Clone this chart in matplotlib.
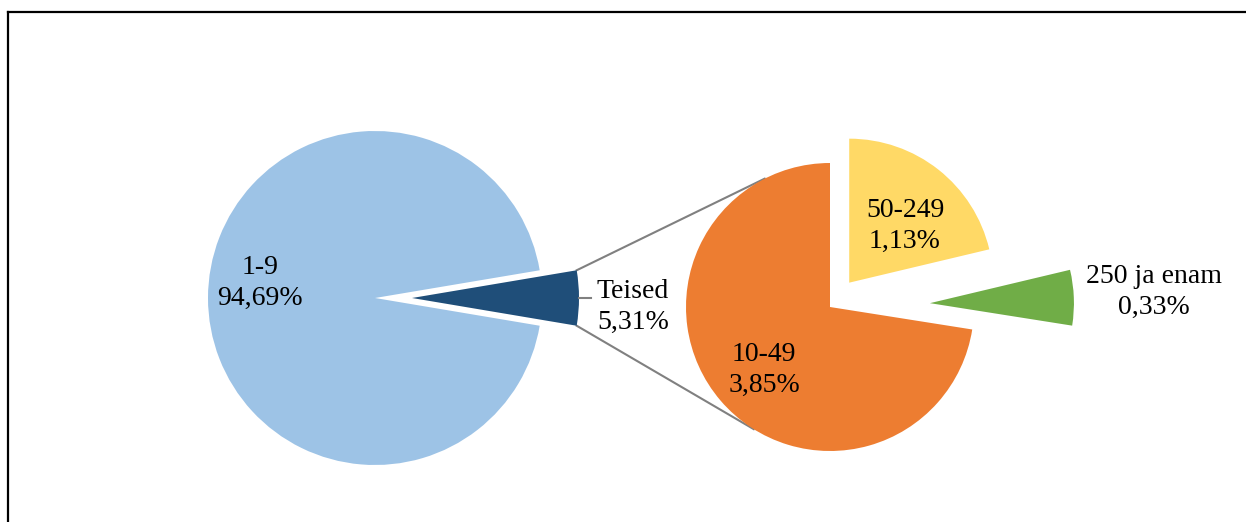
import numpy as np
import matplotlib.pyplot as plt
from matplotlib.lines import Line2D

plt.rcParams['font.family'] = ['Liberation Serif', 'DejaVu Serif']

# main pie
main_labels = ['Teised', '1-9']
main_values = [5.31, 94.69]
main_colors = ['#1F4E79', '#9DC3E6']

# second pie (split of "Teised")
sub_labels = ['50-249', '250 ja enam', '10-49']
sub_values = [1.13, 0.33, 3.85]
sub_colors = ['#FFD966', '#70AD47', '#ED7D31']

W, H = 1246, 522
fig = plt.figure(figsize=(W / 100, H / 100), dpi=100)
ax = fig.add_axes([0, 0, 1, 1])

# pixel coords from top -> y up
def py(y):
    return H - y

# left pie, Teised slice centred on 0 deg
start = -360 * main_values[0] / sum(main_values) / 2
w1, _ = ax.pie(main_values, colors=main_colors, startangle=start,
               counterclock=True, radius=167, center=(375, py(298)),
               explode=[37, 0], wedgeprops=dict(linewidth=0),
               frame=True)

# right pie
w2, _ = ax.pie(sub_values, colors=sub_colors, startangle=90,
               counterclock=False, radius=144, center=(830, py(307)),
               explode=[31, 100, 0],
               wedgeprops=dict(linewidth=0), frame=True)
ax.set_xlim(0, W)
ax.set_ylim(0, H)
ax.set_aspect('equal')
ax.axis('off')

# connector lines from Teised corners to orange slice
t = w1[0]
cx, cy = t.center
r = t.r
orange = w2[2]
ox, oy = orange.center
orr = orange.r
for a_t, a_o in [(t.theta2, 117), (t.theta1, -122)]:
    x0 = cx + r * np.cos(np.radians(a_t))
    y0 = cy + r * np.sin(np.radians(a_t))
    x1 = ox + orr * np.cos(np.radians(a_o))
    y1 = oy + orr * np.sin(np.radians(a_o))
    ax.plot([x0, x1], [y0, y1], color='#808080', lw=1.5, zorder=0)

# small leader next to Teised label
ax.plot([579, 591], [py(298), py(298)], color='#808080', lw=1.5)

fs = 20
def lab(name, val, x, y):
    ax.text(x, py(y), name + '\n' + ('%.2f' % val).replace('.', ',') + '%',
            ha='center', va='center', fontsize=fs, linespacing=1.35)

lab('1-9', main_values[1], 260, 283)
lab('Teised', main_values[0], 633, 307)
lab('10-49', sub_values[2], 764, 370)
lab('50-249', sub_values[0], 905, 226)
lab('250 ja enam', sub_values[1], 1154, 292)

# chart border (top and left visible)
fig.add_artist(Line2D([8 / W, 1], [1 - 11.5 / H, 1 - 11.5 / H],
                      transform=fig.transFigure, color='black', lw=1.6))
fig.add_artist(Line2D([8 / W, 8 / W], [0, 1 - 11.5 / H],
                      transform=fig.transFigure, color='black', lw=1.6))

fig.savefig('out.png', dpi=100, facecolor='white')
